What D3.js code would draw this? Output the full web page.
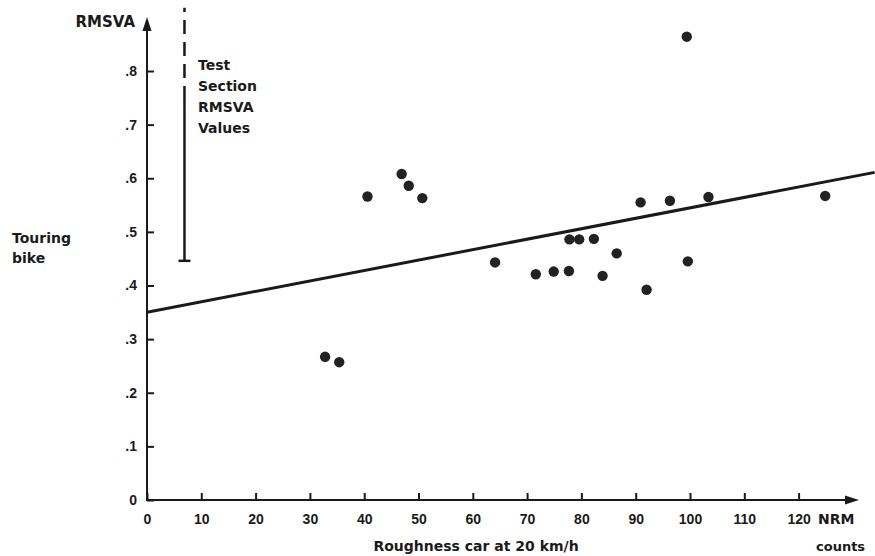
<!DOCTYPE html>
<html>
<head>
<meta charset="utf-8">
<script src="https://cdn.jsdelivr.net/npm/d3@7"></script>
<style>
  body { margin: 0; background: #fff; }
  text { font-family: "DejaVu Sans", "Liberation Sans", sans-serif; font-weight: bold; fill: #1a1a1a; }
  .tick text { font-family: "Liberation Sans", Arial, sans-serif; }
</style>
</head>
<body>
<div id="chart"></div>
<script>
// Roughness car counts (NRM) vs touring bike RMSVA
const roughness = [32.8, 35.4, 40.6, 46.9, 48.2, 50.7, 64.1, 71.6, 74.9, 77.7, 77.8, 79.6, 82.3, 83.9, 86.5, 90.9, 92.0, 96.3, 99.4, 99.6, 103.4, 124.9];
const rmsva = [0.267, 0.257, 0.566, 0.608, 0.586, 0.563, 0.443, 0.421, 0.426, 0.427, 0.486, 0.486, 0.487, 0.418, 0.460, 0.555, 0.392, 0.558, 0.864, 0.445, 0.565, 0.567];

// fitted line end points
const fitX = [0, 134];
const fitY = [0.35, 0.611];

// test section range bar (solid part, dashed part)
const testX = 6.9;
const testSolid = [0.446, 0.746];
const testDashed = [0.746, 0.918];

const xTicks = [0, 10, 20, 30, 40, 50, 60, 70, 80, 90, 100, 110, 120];
const yTicks = [0, 0.1, 0.2, 0.3, 0.4, 0.5, 0.6, 0.7, 0.8];
const yTickLabels = ["0", ".1", ".2", ".3", ".4", ".5", ".6", ".7", ".8"];

const w = 875;
const h = 556;
const ink = "#1a1a1a";

const svg = d3.select("#chart")
    .append("svg")
    .attr("width", w)
    .attr("height", h);

const x = d3.scaleLinear().domain([0, 120]).range([147, 798.6]);
const y = d3.scaleLinear().domain([0, 0.8]).range([500, 71]);

// axis lines with arrows
svg.append("line")
    .attr("x1", 147).attr("y1", 500)
    .attr("x2", 147).attr("y2", 26)
    .attr("stroke", ink).attr("stroke-width", 2);
svg.append("path")
    .attr("d", "M147,17 L142.5,31 L151.5,31 Z")
    .attr("fill", ink);

svg.append("line")
    .attr("x1", 146).attr("y1", 500)
    .attr("x2", 850).attr("y2", 500)
    .attr("stroke", ink).attr("stroke-width", 2);
svg.append("path")
    .attr("d", "M859,500 L845,495.5 L845,504.5 Z")
    .attr("fill", ink);

// X axis ticks
const xAxis = d3.axisBottom(x)
    .tickValues(xTicks)
    .tickSize(-7)
    .tickPadding(14)
    .tickFormat(d3.format("d"));

const gx = svg.append("g")
    .attr("transform", "translate(0,500)")
    .call(xAxis);
gx.select(".domain").remove();
gx.selectAll(".tick line").attr("stroke", ink).attr("stroke-width", 2);
gx.selectAll(".tick text")
    .attr("font-size", 14)
    .attr("font-family", null)
    .attr("fill", ink);

// Y axis ticks
const yAxis = d3.axisLeft(y)
    .tickValues(yTicks)
    .tickSize(-7)
    .tickPadding(10)
    .tickFormat((d, i) => yTickLabels[i]);

const gy = svg.append("g")
    .attr("transform", "translate(147,0)")
    .call(yAxis);
gy.select(".domain").remove();
gy.selectAll(".tick line").attr("stroke", ink).attr("stroke-width", 2);
gy.selectAll(".tick text")
    .attr("font-size", 14)
    .attr("font-family", null)
    .attr("fill", ink);

// regression line
svg.append("line")
    .attr("x1", x(fitX[0])).attr("y1", y(fitY[0]))
    .attr("x2", x(fitX[1])).attr("y2", y(fitY[1]))
    .attr("stroke", ink)
    .attr("stroke-width", 3);

// test section bar
svg.append("line")
    .attr("x1", x(testX)).attr("y1", y(testSolid[0]))
    .attr("x2", x(testX)).attr("y2", y(testSolid[1]))
    .attr("stroke", ink).attr("stroke-width", 2.5);
svg.append("line")
    .attr("x1", x(testX)).attr("y1", y(testDashed[0]))
    .attr("x2", x(testX)).attr("y2", y(testDashed[1]))
    .attr("stroke", ink).attr("stroke-width", 2.5)
    .attr("stroke-dasharray", "14,8");
svg.append("line")
    .attr("x1", x(testX) - 6).attr("y1", y(testSolid[0]))
    .attr("x2", x(testX) + 6).attr("y2", y(testSolid[0]))
    .attr("stroke", ink).attr("stroke-width", 2.5);

// points
svg.selectAll("circle")
    .data(roughness)
    .enter()
    .append("circle")
    .attr("cx", (d) => x(d))
    .attr("cy", (d, i) => y(rmsva[i]))
    .attr("r", 5.2)
    .attr("fill", "#222");

// labels
svg.append("text")
    .text("RMSVA")
    .attr("x", 135)
    .attr("y", 27)
    .attr("text-anchor", "end")
    .attr("font-size", 15);

const touring = svg.append("text")
    .attr("x", 12)
    .attr("y", 243)
    .attr("font-size", 14);
touring.append("tspan").attr("x", 12).text("Touring");
touring.append("tspan").attr("x", 12).attr("dy", 20).text("bike");

const testLabel = svg.append("text")
    .attr("x", 198)
    .attr("y", 70)
    .attr("font-size", 14);
["Test", "Section", "RMSVA", "Values"].forEach((t, i) => {
    testLabel.append("tspan")
        .attr("x", 198)
        .attr("dy", i === 0 ? 0 : 21)
        .text(t);
});

svg.append("text")
    .text("Roughness car at 20 km/h")
    .attr("x", 476)
    .attr("y", 551)
    .attr("text-anchor", "middle")
    .attr("font-size", 14);

svg.append("text")
    .text("NRM")
    .attr("x", 818)
    .attr("y", 524)
    .attr("font-size", 14);

svg.append("text")
    .text("counts")
    .attr("x", 816)
    .attr("y", 551)
    .attr("font-size", 13);
</script>
</body>
</html>
